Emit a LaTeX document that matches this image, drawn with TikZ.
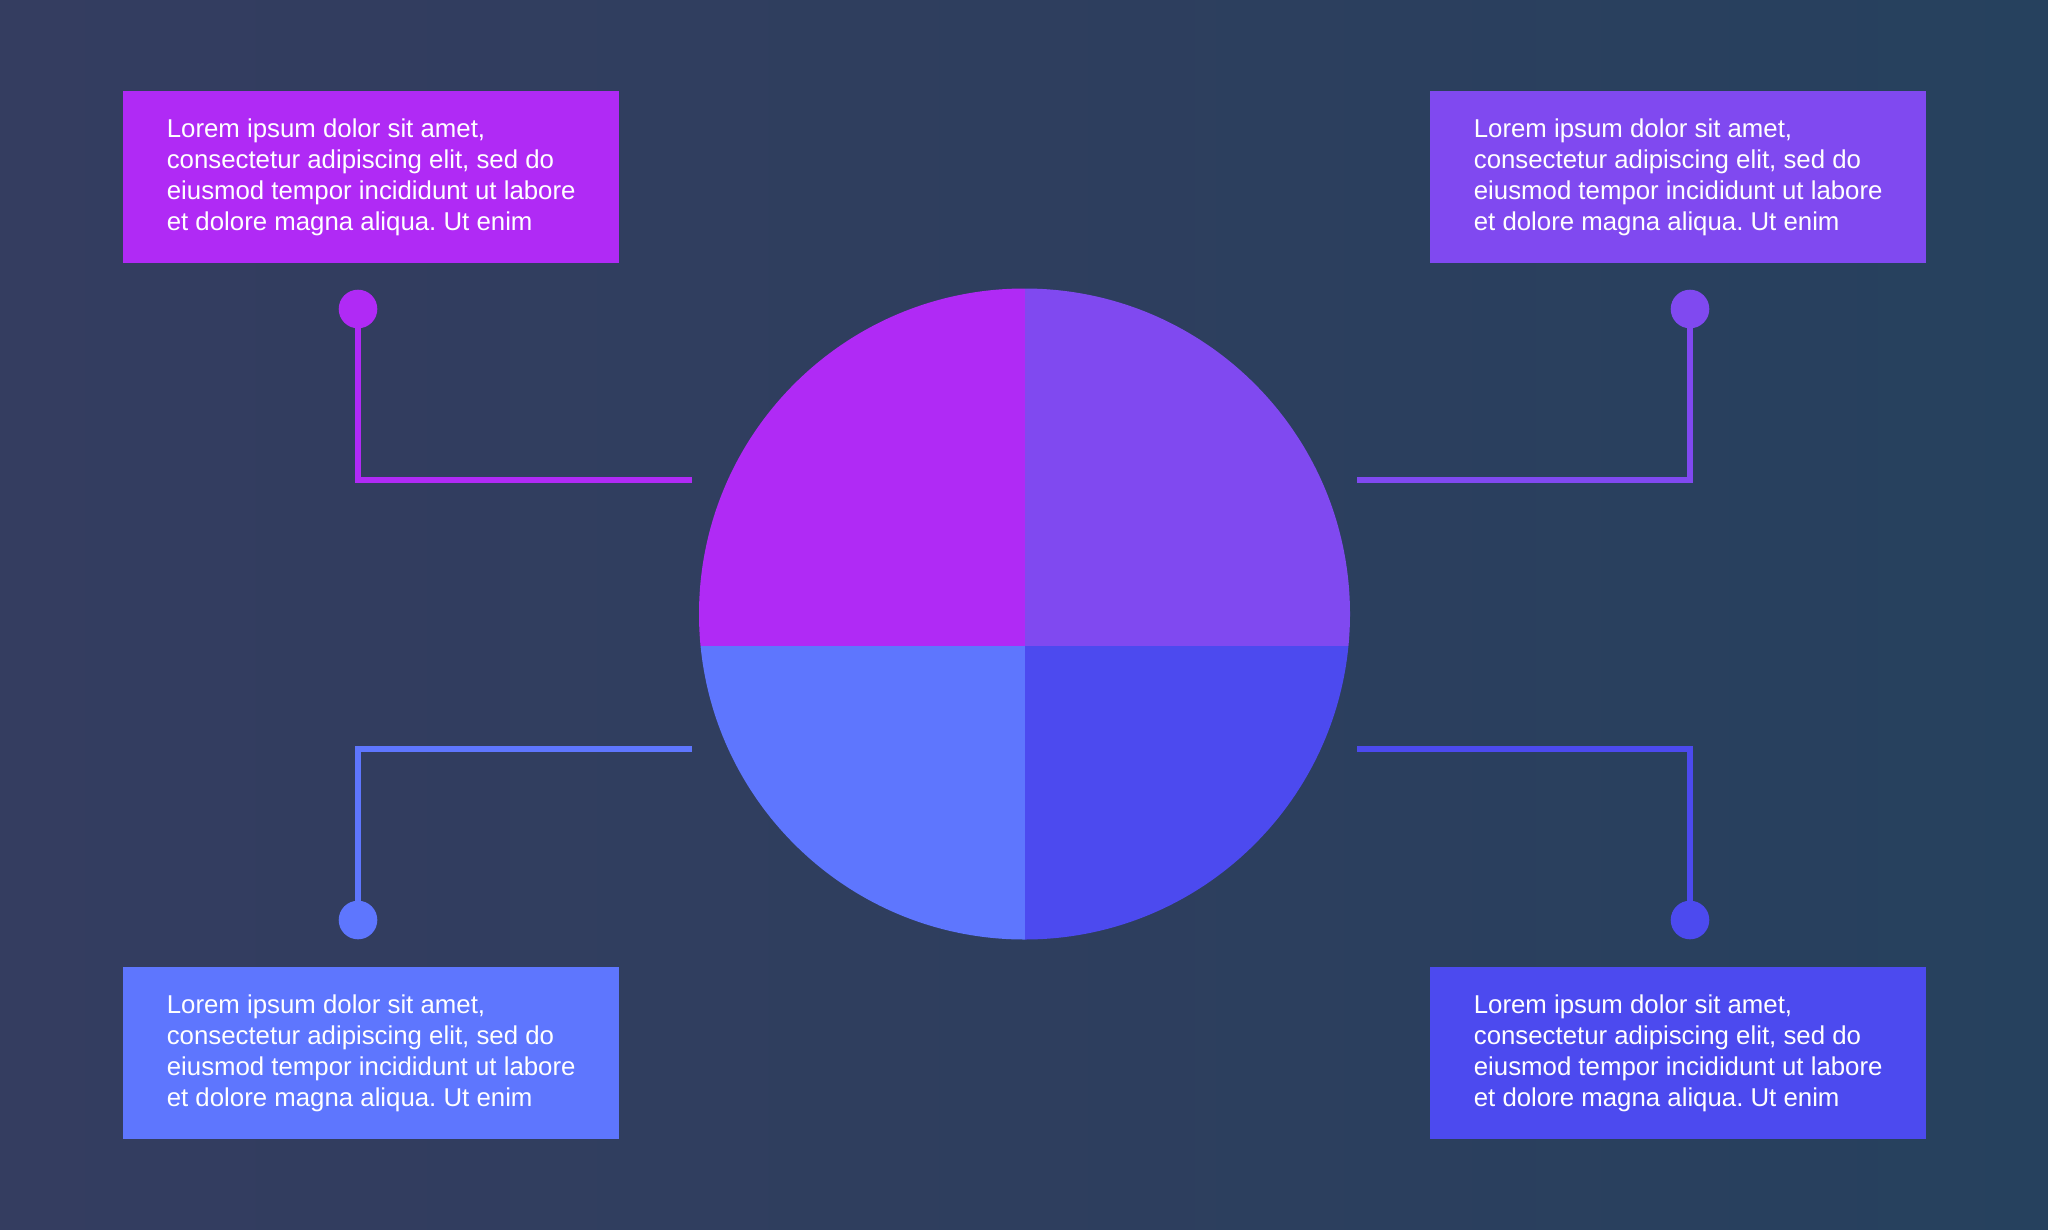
\documentclass[tikz,border=0pt]{standalone}
\usepackage{fontspec}
\setmainfont{Liberation Sans}
\frenchspacing
\definecolor{bgL}{HTML}{343D60}
\definecolor{bgM}{HTML}{2E3E5E}
\definecolor{bgR}{HTML}{26415E}
\definecolor{cA}{HTML}{B02AF5}
\definecolor{cB}{HTML}{8049F0}
\definecolor{cC}{HTML}{5E76FE}
\definecolor{cD}{HTML}{4C4AEF}
\tikzset{
  infobox/.style={draw=none, anchor=north west, inner sep=0pt,
    minimum width=496pt, minimum height=172pt, align=left, text=white,
    font=\fontsize{25.8pt}{31pt}\selectfont\frenchspacing},
  dot/.style={circle, inner sep=0pt, minimum size=38.6pt},
  conn/.style={line width=6.5pt, line join=miter, line cap=butt}
}
\begin{document}
\begin{tikzpicture}[x=1pt,y=-1pt]
\useasboundingbox (0,0) rectangle (2048,1229);
\shade[left color=bgL, right color=bgR, middle color=bgM] (0,0) rectangle (2048,1229);

% pie
\begin{scope}
  \clip (1024.5,614) circle [radius=325.5pt];
  \fill[cA] (690,280) rectangle (1025,646);
  \fill[cB] (1025,280) rectangle (1360,646);
  \fill[cC] (690,646) rectangle (1025,950);
  \fill[cD] (1025,646) rectangle (1360,950);
\end{scope}

% boxes
\node[infobox, fill=cA] (b1) at (123,91) {Lorem ipsum dolor sit amet,\\consectetur adipiscing elit, sed do\\eiusmod tempor incididunt ut labore\\et dolore magna aliqua. Ut enim};
\node[infobox, fill=cB] (b2) at (1430,91) {Lorem ipsum dolor sit amet,\\consectetur adipiscing elit, sed do\\eiusmod tempor incididunt ut labore\\et dolore magna aliqua. Ut enim};
\node[infobox, fill=cC] (b3) at (123,967) {Lorem ipsum dolor sit amet,\\consectetur adipiscing elit, sed do\\eiusmod tempor incididunt ut labore\\et dolore magna aliqua. Ut enim};
\node[infobox, fill=cD] (b4) at (1430,967) {Lorem ipsum dolor sit amet,\\consectetur adipiscing elit, sed do\\eiusmod tempor incididunt ut labore\\et dolore magna aliqua. Ut enim};

% dots
\node[dot, fill=cA] (d1) at (358,309) {};
\node[dot, fill=cB] (d2) at (1690,309) {};
\node[dot, fill=cC] (d3) at (358,920) {};
\node[dot, fill=cD] (d4) at (1690,920) {};

% connector ends
\coordinate (e1) at (692,480);
\coordinate (e2) at (1357,480);
\coordinate (e3) at (692,749);
\coordinate (e4) at (1357,749);

\draw[conn, cA] (d1.center) |- (e1);
\draw[conn, cB] (d2.center) |- (e2);
\draw[conn, cC] (d3.center) |- (e3);
\draw[conn, cD] (d4.center) |- (e4);
\end{tikzpicture}
\end{document}
